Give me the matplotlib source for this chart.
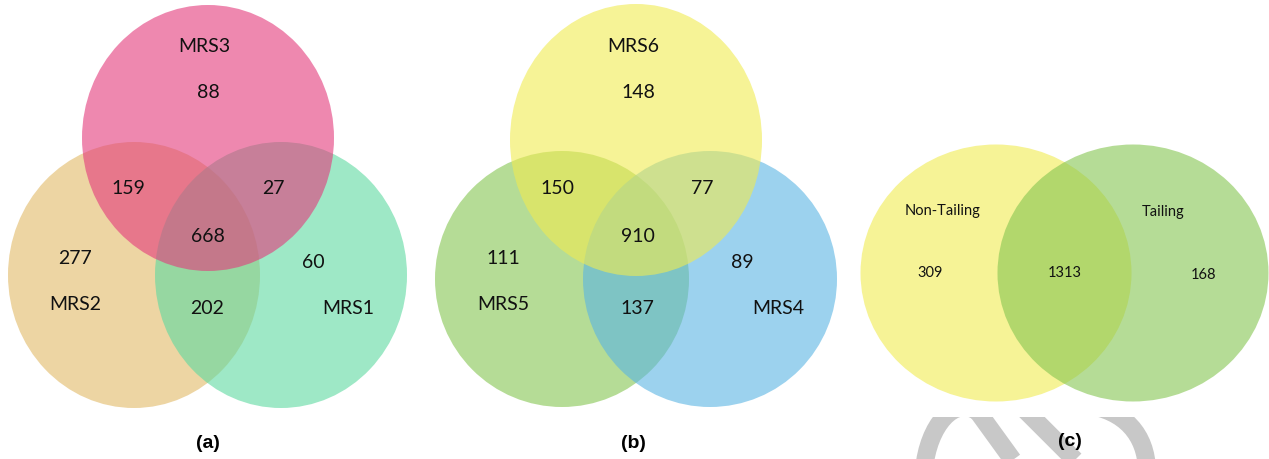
import matplotlib.pyplot as plt
from matplotlib.patches import Ellipse, Rectangle, PathPatch
from matplotlib.path import Path

plt.rcParams['font.family'] = ['Lato', 'DejaVu Sans']

# panel (a)
sets_a = ['MRS2', 'MRS1', 'MRS3']
counts_a = {'MRS3': 88, 'MRS2': 277, 'MRS1': 60,
            'MRS2&MRS3': 159, 'MRS1&MRS3': 27, 'MRS1&MRS2': 202,
            'all': 668}

# panel (b)
sets_b = ['MRS5', 'MRS4', 'MRS6']
counts_b = {'MRS6': 148, 'MRS5': 111, 'MRS4': 89,
            'MRS5&MRS6': 150, 'MRS4&MRS6': 77, 'MRS4&MRS5': 137,
            'all': 910}

# panel (c)
sets_c = ['Non-Tailing', 'Tailing']
counts_c = {'Non-Tailing': 309, 'Tailing': 168, 'both': 1313}

panel_tags = ['(a)', '(b)', '(c)']

# layout in pixels (figure is 1269 x 459)
circles = {
    'MRS2': ((134, 275), 252, 266, (225, 185, 102)),
    'MRS1': ((281, 275), 252, 266, (93, 217, 160)),
    'MRS3': ((208, 138), 252, 266, (227, 57, 123)),
    'MRS5': ((562, 279), 254, 256, (133, 197, 80)),
    'MRS4': ((710, 279), 254, 256, (90, 180, 227)),
    'MRS6': ((636, 140), 252, 272, (240, 235, 80)),
    'Non-Tailing': ((996, 273), 271, 257, (240, 235, 80)),
    'Tailing': ((1133, 273), 271, 257, (133, 197, 80)),
}
name_pos = {
    'MRS3': (204, 47), 'MRS2': (75, 305), 'MRS1': (348, 309),
    'MRS6': (633, 47), 'MRS5': (503, 305), 'MRS4': (778, 309),
    'Non-Tailing': (943, 211), 'Tailing': (1163, 212),
}
count_pos_a = {'MRS3': (208, 92), 'MRS2': (75, 258), 'MRS1': (313, 263),
               'MRS2&MRS3': (128, 188), 'MRS1&MRS3': (273, 188),
               'MRS1&MRS2': (207, 309), 'all': (208, 237)}
count_pos_b = {'MRS6': (638, 92), 'MRS5': (503, 258), 'MRS4': (742, 263),
               'MRS5&MRS6': (557, 188), 'MRS4&MRS6': (702, 188),
               'MRS4&MRS5': (637, 309), 'all': (638, 237)}
count_pos_c = {'Non-Tailing': (930, 273), 'Tailing': (1204, 275),
               'both': (1065, 273)}
tag_pos = [(208, 443), (633, 443), (1070, 442)]

fig = plt.figure(figsize=(12.69, 4.59), dpi=100)
ax = fig.add_axes([0, 0, 1, 1])
ax.set_xlim(0, 1269)
ax.set_ylim(459, 0)
ax.axis('off')

# grey watermark strokes, only visible below y=417
wm = dict(fill=False, ec='#c8c8c8', lw=13, capstyle='butt', zorder=1)
pa = Path([(924, 470), (928, 425), (955, 395), (978, 412), (1020, 470)],
          [Path.MOVETO, Path.CURVE4, Path.CURVE4, Path.CURVE4, Path.LINETO])
ax.add_patch(PathPatch(pa, **wm))
pb = Path([(1020, 405), (1085, 470)], [Path.MOVETO, Path.LINETO])
ax.add_patch(PathPatch(pb, **wm))
pc = Path([(1085, 405), (1125, 410), (1146, 435), (1147, 470)],
          [Path.MOVETO, Path.CURVE4, Path.CURVE4, Path.CURVE4])
ax.add_patch(PathPatch(pc, **wm))
ax.add_patch(Rectangle((880, 0), 300, 417, fc='white', ec='none', zorder=1.5))

for names in (sets_a, sets_b, sets_c):
    for n in names:
        (cx, cy), w, h, rgb = circles[n]
        col = tuple(v / 255 for v in rgb)
        ax.add_patch(Ellipse((cx, cy), w, h, fc=col, ec='none', alpha=0.6, zorder=2))

for n, (x, y) in name_pos.items():
    fs = 10.5 if n in sets_c else 14
    ax.text(x, y, n, ha='center', va='center', fontsize=fs, color='#111111', zorder=5)

for counts, pos, fs in ((counts_a, count_pos_a, 14), (counts_b, count_pos_b, 14),
                        (counts_c, count_pos_c, 10.5)):
    for k, v in counts.items():
        x, y = pos[k]
        ax.text(x, y, str(v), ha='center', va='center', fontsize=fs, color='#111111', zorder=5)

for t, (x, y) in zip(panel_tags, tag_pos):
    ax.text(x, y, t, ha='center', va='center', fontsize=14, fontweight='bold',
            family='Liberation Sans', zorder=5)

fig.savefig('out.png', dpi=100)
